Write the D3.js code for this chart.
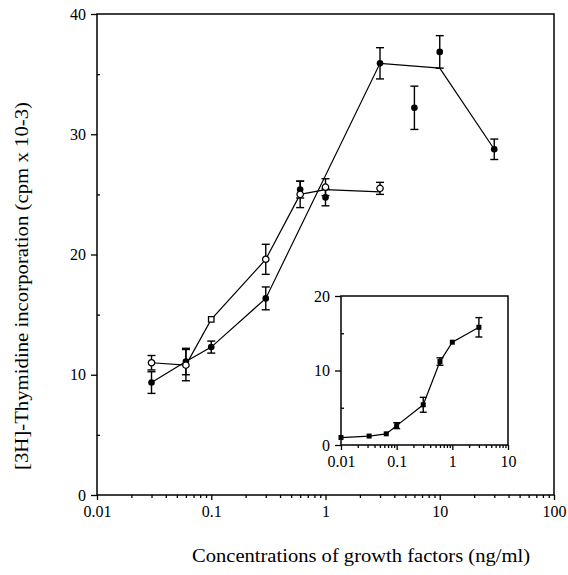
<!DOCTYPE html>
<html>
<head>
<meta charset="utf-8">
<script src="https://cdn.jsdelivr.net/npm/d3@7"></script>
<style>
  body { margin: 0; background: #fff; }
  svg { font-family: "Liberation Serif", "DejaVu Serif", serif; }
  .domain { display: none; }
  .tick line { stroke: #000; stroke-width: 1.3; }
  .tick text { fill: #000; font-size: 16px; font-family: "Liberation Serif", "DejaVu Serif", serif; }
</style>
</head>
<body>
<svg id="chart" width="568" height="575"></svg>
<script>
// main panel, open circles
var openX   = [0.03, 0.06, 0.1, 0.3, 0.6, 1, 3];
var openY   = [11.0, 10.8, 14.6, 19.6, 25.0, 25.6, 25.5];
var openErr = [0.6, 1.3, 0, 1.25, 1.1, 0.7, 0.5];
var openLineY = [11.0, 10.8, 14.6, 19.6, 25.0, 25.4, 25.2];

// main panel, filled circles
var fillX   = [0.03, 0.06, 0.1, 0.3, 0.6, 1, 3, 6, 10, 30];
var fillY   = [9.35, 11.1, 12.3, 16.35, 25.4, 24.75, 35.9, 32.2, 36.85, 28.75];
var fillErr = [0.9, 1.1, 0.5, 0.95, 0.7, 0.7, 1.3, 1.8, 1.35, 0.85];
var fillLineX = [0.03, 0.06, 0.1, 0.3, 3, 10, 30];
var fillLineY = [9.35, 11.1, 12.3, 16.35, 35.9, 35.5, 28.75];

// inset
var insX   = [0.01, 0.032, 0.065, 0.1, 0.3, 0.6, 1, 3];
var insY   = [1.0, 1.2, 1.5, 2.6, 5.4, 11.2, 13.8, 15.8];
var insErr = [0.2, 0.2, 0.2, 0.4, 1.0, 0.5, 0.2, 1.3];

var mainXTicks = [0.01, 0.1, 1, 10, 100];
var mainYTicks = [0, 10, 20, 30, 40];
var insXTicks = [0.01, 0.1, 1, 10];
var insYTicks = [0, 10, 20];

var svg = d3.select("#chart");

function minorLog(lo, hi) {
  var out = [];
  for (var d = lo; d < hi; d *= 10)
    for (var k = 2; k <= 9; k++) out.push(d * k);
  return out;
}
function fmtNum(d) { return d < 1 ? String(d) : d3.format("d")(d); }

function panel(g, x, y, xt, yt, yMinor) {
  var x0 = x.range()[0], x1 = x.range()[1];
  var y0 = y.range()[0], y1 = y.range()[1];

  g.append("rect")
    .attr("x", x0).attr("y", y1)
    .attr("width", x1 - x0).attr("height", y0 - y1)
    .style("fill", "none").style("stroke", "#000").style("stroke-width", 1.5);

  g.append("g").attr("transform", "translate(0," + y0 + ")")
    .call(d3.axisBottom(x).tickValues(xt).tickSize(5).tickPadding(6).tickFormat(fmtNum));
  g.append("g").attr("transform", "translate(0," + y0 + ")")
    .call(d3.axisBottom(x).tickValues(minorLog(xt[0], xt[xt.length - 1])).tickSize(3).tickFormat(""));

  g.append("g").attr("transform", "translate(" + x0 + ",0)")
    .call(d3.axisLeft(y).tickValues(yt).tickSize(6).tickPadding(5));
  g.append("g").attr("transform", "translate(" + x0 + ",0)")
    .call(d3.axisLeft(y).tickValues(yMinor).tickSize(-3).tickFormat(""));
}

function errBars(g, x, y, xs, ys, es, cap) {
  var d = xs.map(function(v, i) { return {x: v, y: ys[i], e: es[i]}; })
    .filter(function(p) { return p.e > 0.3; });
  var b = g.selectAll(null).data(d).enter().append("g")
    .style("stroke", "#000").style("stroke-width", 1.4);
  b.append("line")
    .attr("x1", function(p) { return x(p.x); }).attr("x2", function(p) { return x(p.x); })
    .attr("y1", function(p) { return y(p.y - p.e); }).attr("y2", function(p) { return y(p.y + p.e); });
  [-1, 1].forEach(function(s) {
    b.append("line")
      .attr("x1", function(p) { return x(p.x) - cap; }).attr("x2", function(p) { return x(p.x) + cap; })
      .attr("y1", function(p) { return y(p.y + s * p.e); }).attr("y2", function(p) { return y(p.y + s * p.e); });
  });
}

function path(g, x, y, xs, ys) {
  var line = d3.line().x(function(d) { return x(d[0]); }).y(function(d) { return y(d[1]); });
  g.append("path")
    .datum(xs.map(function(v, i) { return [v, ys[i]]; }))
    .attr("d", line)
    .style("fill", "none").style("stroke", "#000").style("stroke-width", 1.2);
}

// ---- main panel
var x = d3.scaleLog().domain([0.01, 100]).range([97, 554]);
var y = d3.scaleLinear().domain([0, 40]).range([495, 14]);
var main = svg.append("g");
panel(main, x, y, mainXTicks, mainYTicks, [5, 15, 25, 35]);

path(main, x, y, openX, openLineY);
path(main, x, y, fillLineX, fillLineY);
errBars(main, x, y, openX, openY, openErr, 4);
errBars(main, x, y, fillX, fillY, fillErr, 4);

main.selectAll(".fdot").data(fillX).enter().append("circle")
  .attr("cx", function(d) { return x(d); })
  .attr("cy", function(d, i) { return y(fillY[i]); })
  .attr("r", 3.3).style("fill", "#000");

main.selectAll(".odot").data(openX).enter().append("path")
  .attr("transform", function(d, i) { return "translate(" + x(d) + "," + y(openY[i]) + ")"; })
  .attr("d", function(d) {
    return d3.symbol().type(d === 0.1 ? d3.symbolSquare : d3.symbolCircle).size(d === 0.1 ? 30 : 32)();
  })
  .style("fill", "#fff").style("stroke", "#000").style("stroke-width", 1.3);

main.append("text")
  .attr("x", 361).attr("y", 562)
  .attr("text-anchor", "middle")
  .attr("textLength", 338).attr("lengthAdjust", "spacingAndGlyphs")
  .style("font-size", "19px")
  .text("Concentrations of growth factors (ng/ml)");

main.append("text")
  .attr("transform", "translate(28,286) rotate(-90)")
  .attr("text-anchor", "middle")
  .attr("textLength", 368).attr("lengthAdjust", "spacingAndGlyphs")
  .style("font-size", "19px")
  .text("[3H]-Thymidine incorporation (cpm x 10-3)");

// ---- inset
var xi = d3.scaleLog().domain([0.01, 10]).range([341, 508]);
var yi = d3.scaleLinear().domain([0, 20]).range([445, 296]);
var ins = svg.append("g");
ins.append("rect").attr("x", 341).attr("y", 296).attr("width", 167).attr("height", 149)
  .style("fill", "#fff");
panel(ins, xi, yi, insXTicks, insYTicks, [5, 15]);
path(ins, xi, yi, insX, insY);
errBars(ins, xi, yi, insX, insY, insErr, 3.5);
ins.selectAll(".idot").data(insX).enter().append("rect")
  .attr("x", function(d) { return xi(d) - 2.5; })
  .attr("y", function(d, i) { return yi(insY[i]) - 2.5; })
  .attr("width", 5).attr("height", 5).style("fill", "#000");
</script>
</body>
</html>
